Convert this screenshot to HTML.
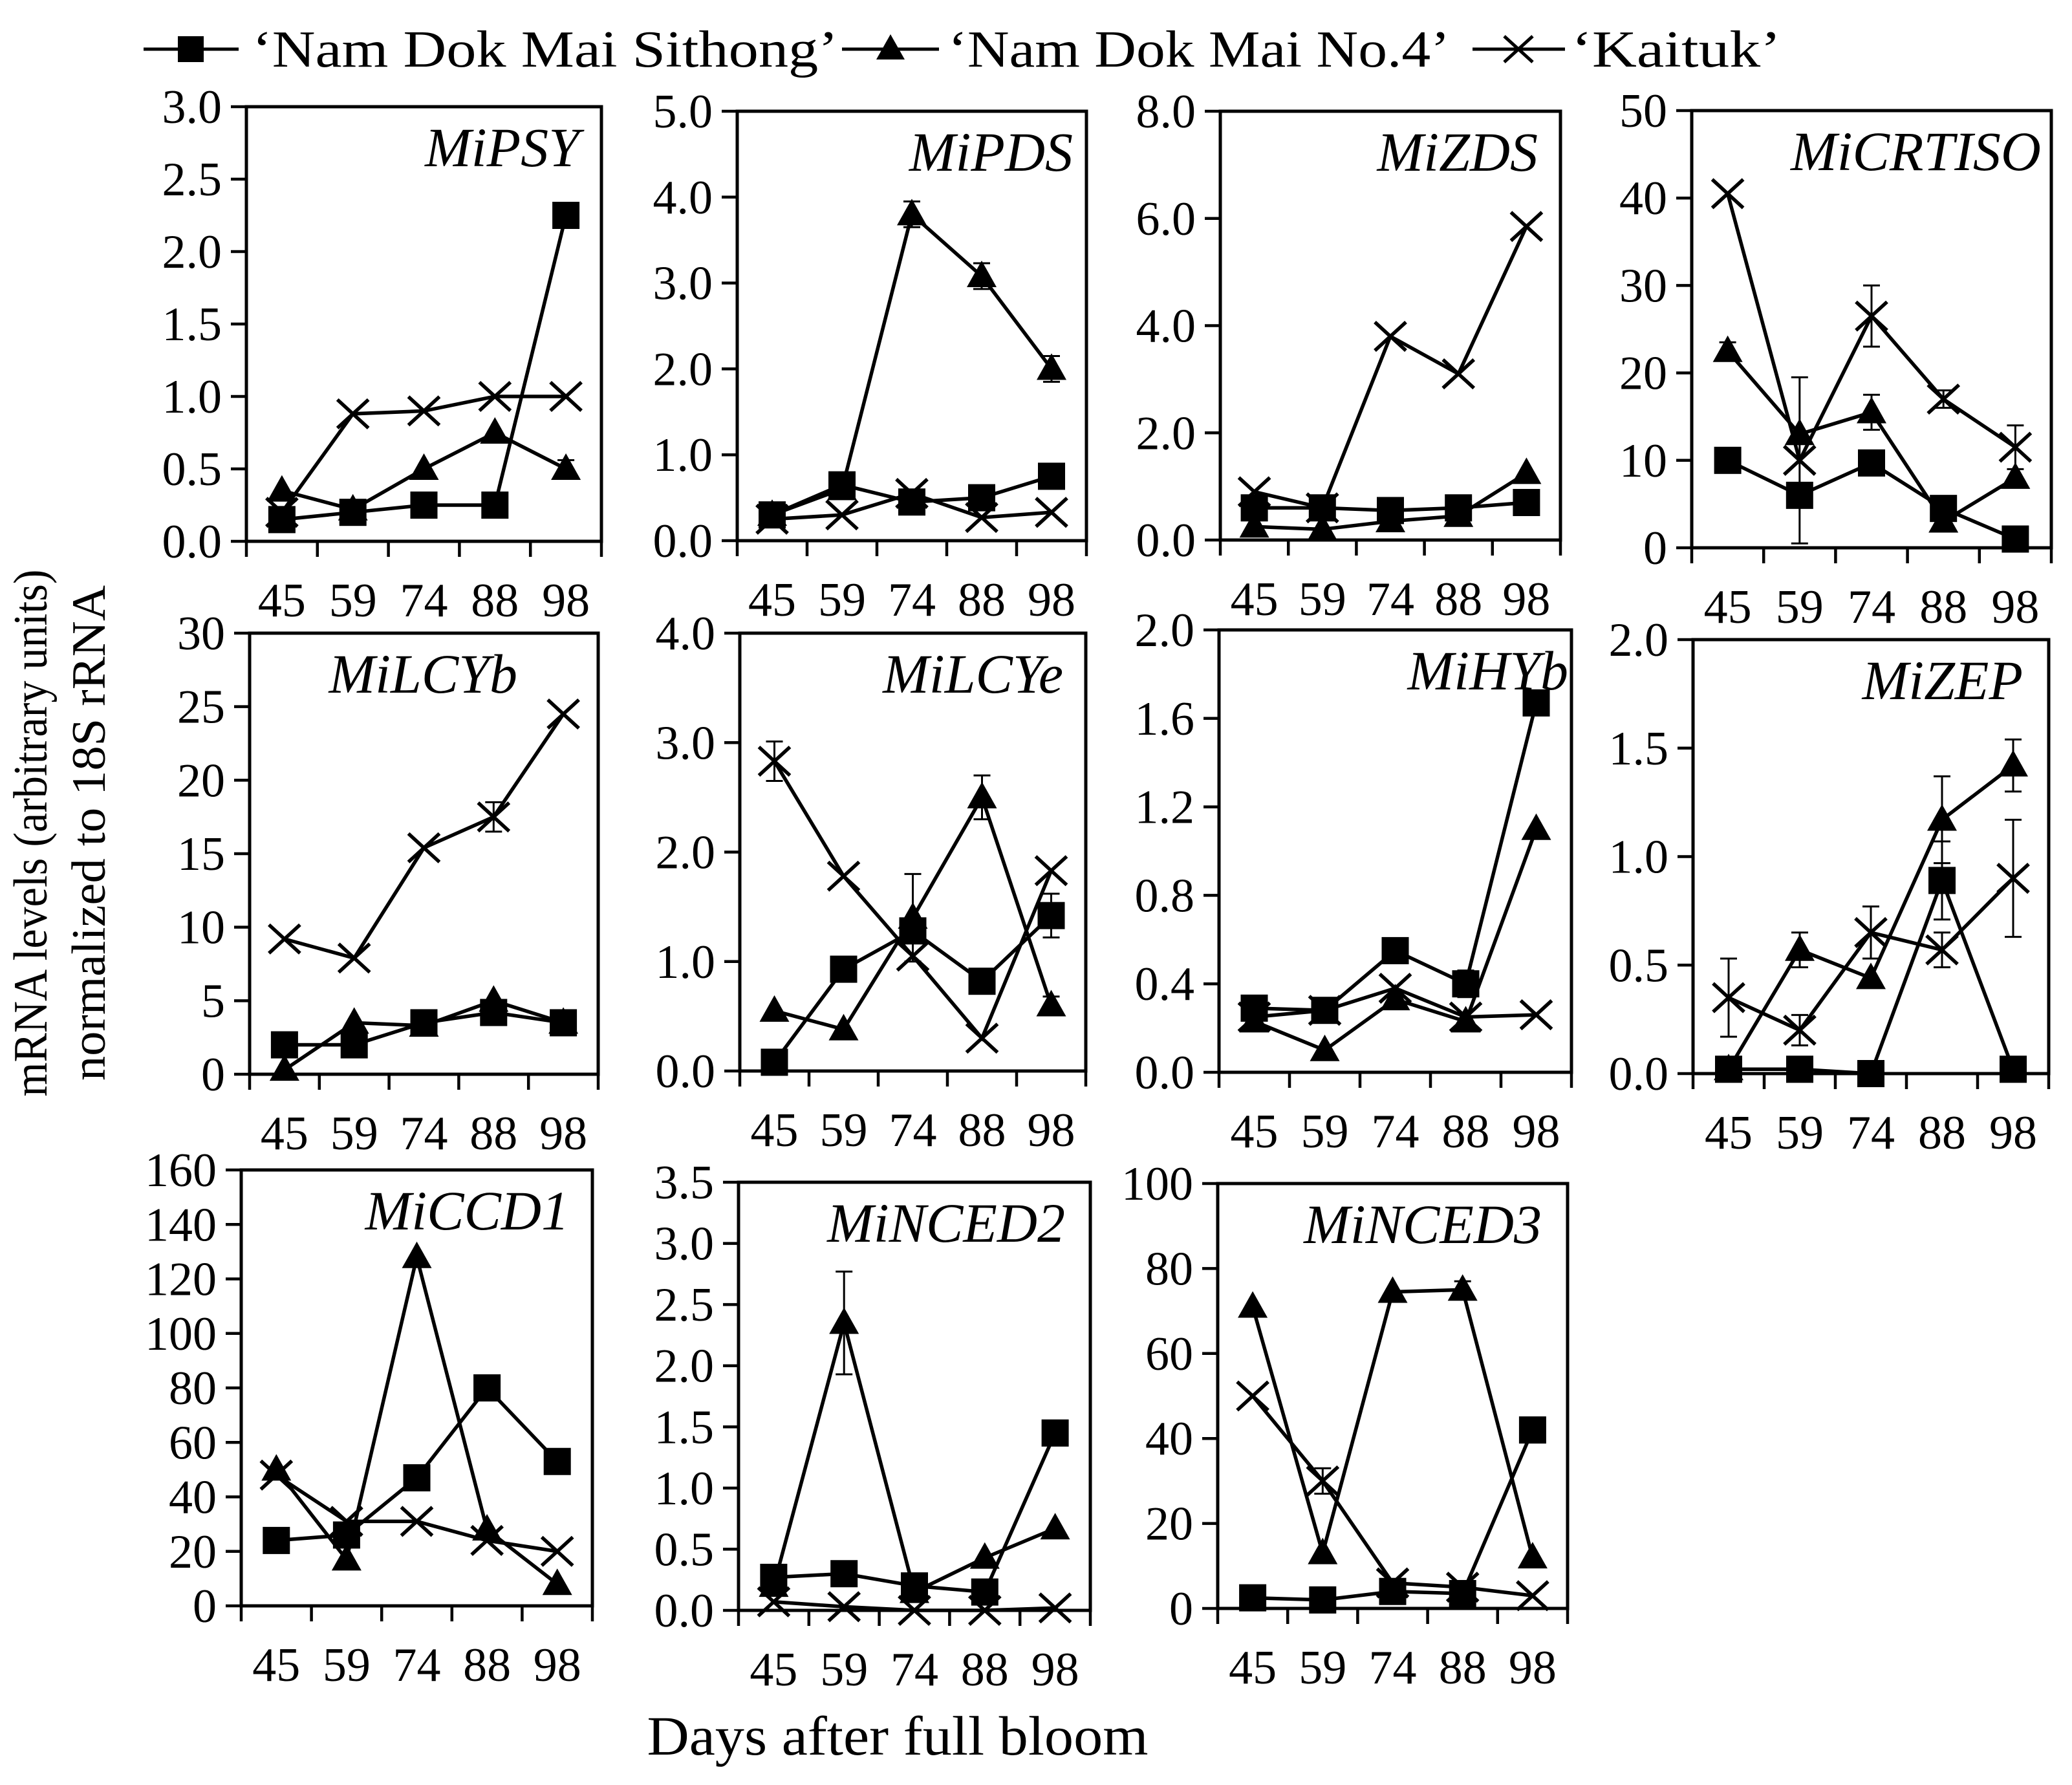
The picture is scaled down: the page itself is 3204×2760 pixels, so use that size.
<!DOCTYPE html>
<html><head><meta charset="utf-8"><style>
html,body{margin:0;padding:0;background:#fff;}
svg{display:block;font-family:"Liberation Serif","Times New Roman",serif;}
</style></head><body>
<svg id="chart" xmlns="http://www.w3.org/2000/svg" width="3204" height="2760" viewBox="0 0 3204 2760">
<rect width="3204" height="2760" fill="#fff"/>
<g>
 <g>
  <line x1="222" y1="76" x2="369" y2="76" stroke="#000" stroke-width="5"/>
  <rect x="275" y="56" width="40" height="40" fill="#000"/>
  <text x="390" y="103" font-size="80" textLength="906" lengthAdjust="spacingAndGlyphs">‘Nam Dok Mai Sithong’</text>
 </g>
 <g>
  <line x1="1302" y1="76" x2="1452" y2="76" stroke="#000" stroke-width="5"/>
  <polygon points="1377,53 1399,92 1355,92" fill="#000"/>
  <text x="1466" y="103" font-size="80" textLength="776" lengthAdjust="spacingAndGlyphs">‘Nam Dok Mai No.4’</text>
 </g>
 <g>
  <line x1="2277" y1="76" x2="2420" y2="76" stroke="#000" stroke-width="5"/>
  <path d="M2326,56 L2370,96 M2370,56 L2326,96" stroke="#000" stroke-width="5"/>
  <text x="2430" y="103" font-size="80" textLength="324" lengthAdjust="spacingAndGlyphs">‘Kaituk’</text>
 </g>
</g>
<g>
 <text transform="translate(72,1288) rotate(-90)" text-anchor="middle" font-size="74" textLength="815" lengthAdjust="spacingAndGlyphs">mRNA levels (arbitrary units)</text>
 <text transform="translate(162,1288) rotate(-90)" text-anchor="middle" font-size="74" textLength="766" lengthAdjust="spacingAndGlyphs">normalized to 18S rRNA</text>
</g>
<text x="1388" y="2713" text-anchor="middle" font-size="86" textLength="775" lengthAdjust="spacingAndGlyphs">Days after full bloom</text>
<g id="panels"></g>
</svg>
<script>
const categories = ["45","59","74","88","98"];
const genes = ["MiPSY","MiPDS","MiZDS","MiCRTISO","MiLCYb","MiLCYe","MiHYb","MiZEP","MiCCD1","MiNCED2","MiNCED3"];
const yMax = [3,5,8,50,30,4,2,2,160,3.5,100];
const yStep = [0.5,1,2,10,5,1,0.4,0.5,20,0.5,20];
const yDecimals = [1,1,1,0,0,1,1,1,0,1,0];
const sithong = [
 [0.15,0.2,0.25,0.25,2.25],[0.3,0.65,0.45,0.5,0.75],[0.6,0.6,0.55,0.6,0.7],[10,6,9.7,4.5,1],
 [2,2,3.5,4.2,3.5],[0.08,0.93,1.28,0.82,1.42],[0.29,0.28,0.55,0.4,1.67],[0.02,0.02,0.0,0.89,0.02],
 [24,26,47,80,53],[0.27,0.3,0.2,0.15,1.45],[2.5,2,4,3.5,42]];
const no4 = [
 [0.35,0.22,0.5,0.75,0.5],[0.3,0.6,3.8,3.08,2.0],[0.25,0.2,0.35,0.45,1.25],[22.5,13,15.5,3,8],
 [0.3,3.5,3.3,5,3.5],[0.55,0.38,1.4,2.5,0.6],[0.23,0.1,0.33,0.23,1.1],[0.02,0.57,0.44,1.17,1.42],
 [50,17,128,28,8],[0.2,2.35,0.15,0.43,0.67],[71,13,74.5,75,12]];
const kaituk = [
 [0.2,0.88,0.9,1.0,1.0],[0.25,0.3,0.55,0.27,0.33],[0.9,0.6,3.8,3.1,5.85],[40.5,10,26.5,17,11.5],
 [9.2,7.9,15.4,17.5,24.5],[2.83,1.78,1.05,0.3,1.83],[0.25,0.28,0.38,0.25,0.26],[0.35,0.2,0.65,0.57,0.9],
 [48,31,31,24,20],[0.07,0.03,0.0,0.0,0.02],[50,30,6,5,3]];
const sithongErr = [
 [0,0,0,0,0.08],[0,0,0,0,0],[0,0,0,0,0],[0,0,0,0,0],[0,0,0,0,0],[0,0,0,0,0.2],[0,0,0,0.06,0],
 [0,0,0,0.18,0],[0,0,0,0,0],[0,0,0,0,0],[0,0,0,0,0]];
const no4Err = [
 [0,0,0,0,0.06],[0,0,0.15,0.15,0.15],[0,0,0,0,0],[1,0,2,0,0],[0,0,0,0,0],[0,0,0.4,0.2,0.08],[0,0,0,0,0],
 [0,0.08,0,0.2,0.12],[0,0,0,0,0],[0,0.42,0,0,0],[0,0,0,2,0]];
const kaitukErr = [
 [0,0,0,0,0],[0,0,0,0,0],[0,0,0,0,0],[0,9.5,3.5,1,2.5],[0,0,0,1,0],[0.18,0,0,0,0],[0,0,0,0,0],
 [0.18,0.07,0.12,0.08,0.27],[0,0,0,0,0],[0,0,0,0,0],[0,3,0,0,0]];

// layout (not data)
const boxes = [[381,165,930,837],[1140,172,1680,836],[1887,172,2413,835],[2616,171,3172,847],
 [386,979,925,1661],[1144,979,1679,1656],[1885,974,2430,1658],[2618,989,3168,1660],
 [373,1809,916,2483],[1142,1828,1686,2490],[1883,1830,2424,2487]];
const titleOffset = [34,21,35,16,125,35,5,40,36,39,40];

const NS = "http://www.w3.org/2000/svg";
const root = document.getElementById("panels");
function mk(tag, attrs, parent){const e=document.createElementNS(NS,tag);for(const k in attrs)e.setAttribute(k,attrs[k]);parent.appendChild(e);return e;}

genes.forEach((gene,i)=>{
  const [l,t,r,b] = boxes[i];
  const g = mk("g",{},root);
  
  
  const n = categories.length;
  const bw = (r-l)/n;
  const xs = k => l + bw*(k+0.5);
  const ys = v => b - (v/yMax[i])*(b-t);
  const frame = mk("rect",{x:l,y:t,width:r-l,height:b-t,fill:"none",stroke:"#000","stroke-width":5},g);
  
  
  const yg = mk("g",{},g);
  
  
  const nt = Math.round(yMax[i]/yStep[i]);
  for(let k=0;k<=nt;k++){
    const v=k*yStep[i], y=ys(v);
    mk("line",{x1:l-24,y1:y,x2:l,y2:y,stroke:"#000","stroke-width":4.5},yg);
    const tx = mk("text",{x:l-38,y:y+25,"text-anchor":"end","font-size":74},yg);
    tx.textContent = v.toFixed(yDecimals[i]);
    
    
  }
  const xg = mk("g",{},g);
  
  
  for(let k=0;k<=n;k++){const x=l+bw*k; mk("line",{x1:x,y1:b,x2:x,y2:b+24,stroke:"#000","stroke-width":4.5},xg);}
  categories.forEach((c,k)=>{
    const tx = mk("text",{x:xs(k),y:b+116,"text-anchor":"middle","font-size":74},xg);
    tx.textContent = c;
    
    
  });
  const title = mk("text",{x:r-titleOffset[i],y:t+92,"text-anchor":"end","font-size":86,"font-style":"italic"},g);
  title.textContent = gene;
  
  
  const series = [[sithong[i],sithongErr[i],"square","series-sithong"],[no4[i],no4Err[i],"triangle","series-no4"],[kaituk[i],kaitukErr[i],"cross","series-kaituk"]];
  series.forEach(([vals,errs,shape,name])=>{
    const sg = mk("g",{},g);
    
    
    const pts = vals.map((v,k)=>xs(k)+","+ys(v)).join(" ");
    mk("polyline",{points:pts,fill:"none",stroke:"#000","stroke-width":5.5},sg);
    vals.forEach((v,k)=>{
      const x=xs(k), y=ys(v);
      if(errs[k]>0){
        const e1=ys(v+errs[k]), e2=ys(Math.max(0,v-errs[k]));
        mk("path",{d:`M${x},${e1}V${e2}M${x-13},${e1}H${x+13}M${x-13},${e2}H${x+13}`,stroke:"#000","stroke-width":3,fill:"none"},sg);
      }
      let m;
      if(shape==="square") m = mk("rect",{x:x-21,y:y-21,width:42,height:42,fill:"#000"},sg);
      else if(shape==="triangle") m = mk("polygon",{points:`${x},${y-24} ${x+23},${y+17} ${x-23},${y+17}`,fill:"#000"},sg);
      else m = mk("path",{d:`M${x-24},${y-22}L${x+24},${y+22}M${x+24},${y-22}L${x-24},${y+22}`,stroke:"#000","stroke-width":5.5,fill:"none"},sg);
      
      
    });
  });
});
</script>
</body></html>
